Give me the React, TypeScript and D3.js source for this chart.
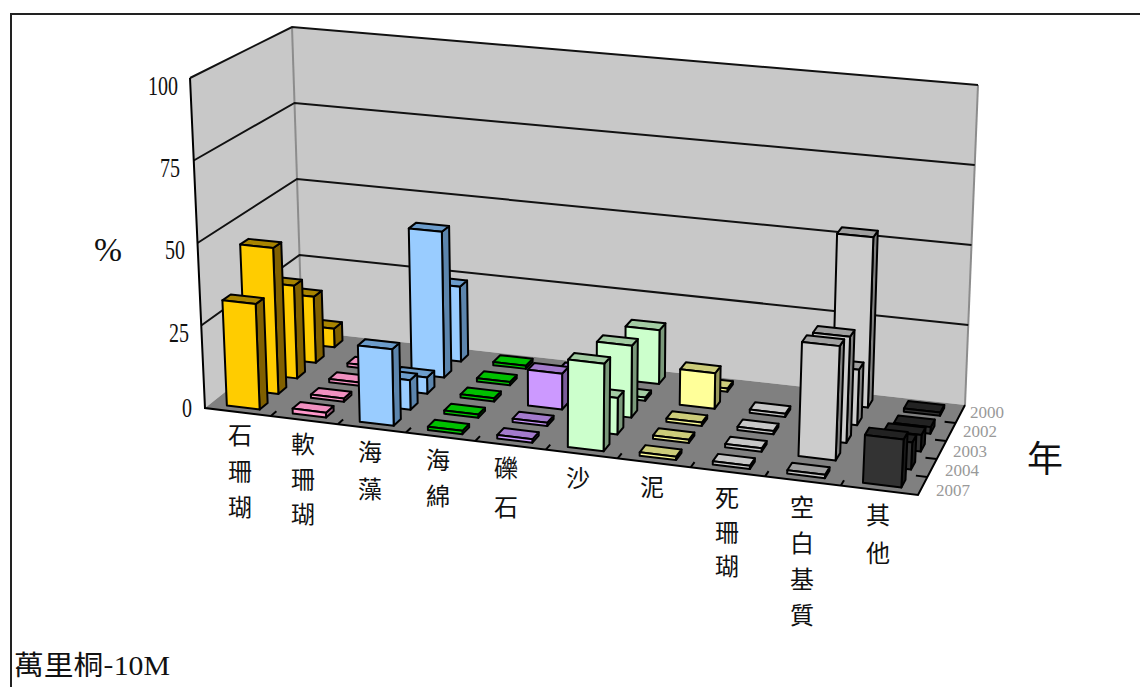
import React from "react";
import * as d3 from "d3";

// Cover by substrate type at Wanlitung, 10 m depth, by survey year.
const categories = ["石珊瑚", "軟珊瑚", "海藻", "海綿", "礫石", "沙", "泥", "死珊瑚", "空白基質", "其他"];
const years = ["2007", "2004", "2003", "2002", "2000"];
const values2007 = [32, 1.5, 23, 1, 1, 26, 1, 1, 1, 14];
const values2004 = [45, 1, 9, 1, 1, 11, 1, 1, 34, 8];
const values2003 = [29, 1, 5, 1, 11, 22, 1, 1, 32, 5];
const values2002 = [21, 1, 46, 1, 0.5, 1, 11, 1, 17, 2];
const values2000 = [6, 0, 24, 1, 1, 17, 1, 0, 53, 1];
const seriesValues = [values2007, values2004, values2003, values2002, values2000];
const valueTicks = [0, 25, 50, 75, 100];

const frontColors = ["#FFCC00", "#FF99CC", "#99CCFF", "#00CC00", "#CC99FF", "#CCFFCC", "#FFFF99", "#CCCCCC", "#CCCCCC", "#333333"];
const topColors = ["#A88400", "#F090C0", "#6C9CCB", "#00C000", "#A37ACC", "#A3CCA3", "#CCCC7A", "#C8C8C8", "#A0A0A0", "#222222"];
const sideColors = ["#806000", "#995C7A", "#5C85AD", "#007A00", "#7A5C99", "#7A997A", "#99995C", "#999999", "#808080", "#1A1A1A"];

// Corners of the plot box on screen, indexed [category][value][depth].
const corners = {
  c000: [205, 408], c100: [918, 495], c001: [302, 331], c101: [965, 405],
  c010: [190, 78], c110: [935, 150], c011: [292, 27], c111: [978, 85],
};

const mix = (a: number, b: number, t: number) => a + (b - a) * t;

// Foreshortening along the category axis: the left end recedes from the viewer.
const foreshorten = 0.916;
const warp = (u: number) => (u * foreshorten) / (1 - u + u * foreshorten);

// Trilinear placement of a point within the plot box (all inputs in 0..1).
function project(uRaw: number, v: number, z: number): [number, number] {
  const u = warp(uRaw);
  const axis = (i: number) => {
    const front = mix(mix(corners.c000[i], corners.c100[i], u), mix(corners.c010[i], corners.c110[i], u), v);
    const back = mix(mix(corners.c001[i], corners.c101[i], u), mix(corners.c011[i], corners.c111[i], u), v);
    return mix(front, back, z);
  };
  return [axis(0), axis(1)];
}

const categoryScale = d3.scaleBand<string>().domain(categories).range([0, 1]).paddingInner(0.5).paddingOuter(0.25);
const depthScale = d3.scalePoint<string>().domain(years).range([0.1, 0.9]);
const valueScale = d3.scaleLinear().domain([0, 100]).range([0, 1]);
const barDepth = 0.085;

const polyline = d3.line<[number, number]>();
const path = (pts: [number, number][]) => polyline(pts) + "Z";

function Bar({ category, year, value, index }: { category: string; year: string; value: number; index: number }) {
  const u0 = categoryScale(category)!;
  const u1 = u0 + categoryScale.bandwidth();
  const zc = depthScale(year)!;
  const z0 = zc - barDepth / 2;
  const z1 = zc + barDepth / 2;
  const v = valueScale(value);
  const stroke = { stroke: "#000", strokeWidth: 2, strokeLinejoin: "round" as const };
  return (
    <g>
      <path d={path([project(u1, 0, z0), project(u1, 0, z1), project(u1, v, z1), project(u1, v, z0)])} fill={sideColors[index]} {...stroke} />
      <path d={path([project(u0, v, z0), project(u1, v, z0), project(u1, v, z1), project(u0, v, z1)])} fill={topColors[index]} {...stroke} />
      <path d={path([project(u0, 0, z0), project(u1, 0, z0), project(u1, v, z0), project(u0, v, z0)])} fill={frontColors[index]} {...stroke} />
    </g>
  );
}

// Vertical stacks of characters below the front edge of the floor.
const labelPositions = [
  [240, 444], [303, 453], [370, 461], [438, 469], [506, 477], [578, 487], [652, 496], [727, 507], [802, 516], [878, 524],
];
const labelSteps = [36, 35, 37, 36, 39, 0, 0, 34, 36, 38];

const serif = "'Liberation Serif', 'DejaVu Serif', serif";
const cjk = "'Noto Sans CJK TC', 'Noto Sans CJK SC', sans-serif";

const yearLabelPositions = [[953, 496], [962, 476], [970, 457], [980, 437], [987, 418]];
const valueLabelPositions = [[187, 417], [179, 342], [175, 259], [170, 177], [163, 95]];

export default function App() {
  const wall = "#C8C8C8";
  return (
    <svg width={1140} height={687} viewBox="0 0 1140 687" style={{ position: "absolute", left: 0, top: 0, background: "#fff" }}>
      {/* outer frame, open at the right and the bottom */}
      <path d="M11,687 V14 H1140" fill="none" stroke="#222" strokeWidth={2} />

      {/* walls and floor */}
      <path d={path([project(0, 0, 0), project(0, 0, 1), project(0, 1, 1), project(0, 1, 0)])} fill={wall} />
      <path d={path([project(0, 0, 1), project(1, 0, 1), project(1, 1, 1), project(0, 1, 1)])} fill={wall} />
      <path d={path([project(0, 0, 0), project(1, 0, 0), project(1, 0, 1), project(0, 0, 1)])} fill="#808080" />

      <path d={polyline([project(0, 0, 1), project(0, 1, 1)])!} fill="none" stroke="#8c8c8c" strokeWidth={2} />
      <path d={polyline([project(1, 0, 1), project(1, 1, 1)])!} fill="none" stroke="#8c8c8c" strokeWidth={2} />

      {/* value gridlines across left and back walls */}
      {valueTicks.filter((t) => t > 0).map((t) => {
        const v = valueScale(t);
        return (
          <path key={t} d={polyline([project(0, v, 0), project(0, v, 1), project(1, v, 1)])!} fill="none" stroke="#111" strokeWidth={2} />
        );
      })}

      {/* axis edges with inward ticks */}
      <path d={polyline([project(0, 1, 0), project(0, 0, 0), project(1, 0, 0), project(1, 0, 1)])!} fill="none" stroke="#000" strokeWidth={2} />
      {categories.slice(1).map((_, i) => {
        const u = (i + 1) / categories.length;
        return <path key={i} d={polyline([project(u, 0, 0), project(u, 0, 0.06)])!} fill="none" stroke="#000" strokeWidth={2} />;
      })}
      {years.slice(1).map((_, i) => {
        const z = (i + 1) / years.length;
        return <path key={i} d={polyline([project(1, 0, z), project(0.985, 0, z)])!} fill="none" stroke="#000" strokeWidth={2} />;
      })}

      {/* bars, back row first */}
      {[...years].reverse().map((year) => {
        const values = seriesValues[years.indexOf(year)];
        return (
          <g key={year}>
            {categories.map((c, i) =>
              values[i] > 0 ? <Bar key={c} category={c} year={year} value={values[i]} index={i} /> : null
            )}
          </g>
        );
      })}

      {/* value axis labels */}
      {valueTicks.map((t, i) => {
        const label = String(t);
        return (
          <text key={t} x={valueLabelPositions[i][0]} y={valueLabelPositions[i][1]} textAnchor="middle"
            fontFamily={serif} fontSize={27} textLength={label.length * 10} lengthAdjust="spacingAndGlyphs" fill="#111">
            {label}
          </text>
        );
      })}
      <text x={108} y={261} textAnchor="middle" fontFamily={serif} fontSize={34} textLength={28} lengthAdjust="spacingAndGlyphs" fill="#111">%</text>

      {/* category labels */}
      {categories.map((c, i) => (
        <g key={c}>
          {Array.from(c).map((ch, k) => (
            <text key={k} x={labelPositions[i][0]} y={labelPositions[i][1] + k * labelSteps[i]} textAnchor="middle"
              fontFamily={cjk} fontSize={24} fill="#111">
              {ch}
            </text>
          ))}
        </g>
      ))}

      {/* depth axis labels */}
      {years.map((y, i) => (
        <text key={y} x={yearLabelPositions[i][0]} y={yearLabelPositions[i][1]} textAnchor="middle"
          fontFamily={serif} fontSize={17} textLength={34} lengthAdjust="spacingAndGlyphs" fill="#999">
          {y}
        </text>
      ))}
      <text x={1045} y={472} textAnchor="middle" fontFamily={cjk} fontSize={36} fill="#111">年</text>

      <text x={14} y={675} fontFamily={cjk} fontSize={27} fill="#111" textLength={156} lengthAdjust="spacingAndGlyphs">
        萬里桐-<tspan fontFamily={serif}>10M</tspan>
      </text>
    </svg>
  );
}
